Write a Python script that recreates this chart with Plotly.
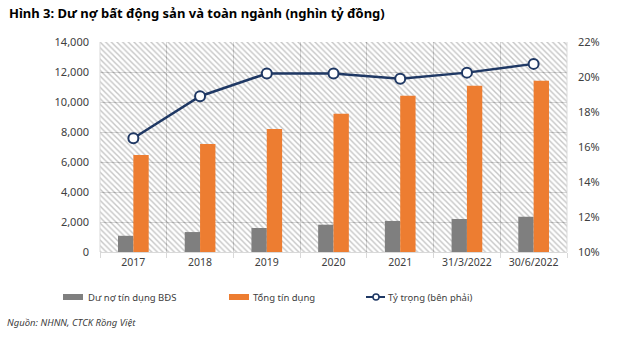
import plotly.graph_objects as go

categories = ["2017", "2018", "2019", "2020", "2021", "31/3/2022", "30/6/2022"]
du_no_bds = [1080, 1330, 1600, 1820, 2070, 2200, 2350]
tong_tin_dung = [6470, 7200, 8200, 9220, 10420, 11090, 11420]
ty_trong = [16.5, 18.9, 20.2, 20.2, 19.9, 20.25, 20.75]
left_ticks = [0, 2000, 4000, 6000, 8000, 10000, 12000, 14000]
right_ticks = [10, 12, 14, 16, 18, 20, 22]

W, H = 622, 341
L, R, T, B = 100, 55, 42, 89
PW, PH = W - L - R, H - T - B

def px(x):
    return (x - L) / PW

def py(y):
    return (H - B - y) / PH

FONT = "Noto Sans"
GRAY = "#7f7f7f"
ORANGE = "#ed7d31"
NAVY = "#1f3864"
TXT = "#404040"
GRID = "#b3b3b3"  # seen through the half-transparent hatch layer

fig = go.Figure()

# hatched plot background (half-transparent so the gridlines show through)
fig.add_trace(go.Bar(
    x=[categories[3]], y=[left_ticks[-1]], width=[len(categories)], offset=-len(categories) / 2,
    marker=dict(color="white", line=dict(width=0),
                pattern=dict(shape="\\", size=4, solidity=0.35, fgcolor="#8c8c8c",
                             bgcolor="white", fillmode="replace")),
    opacity=0.5, hoverinfo="skip", showlegend=False,
))

fig.add_trace(go.Bar(
    x=categories, y=du_no_bds, name="Dư nợ tín dụng BĐS",
    width=0.23, offset=-0.23, marker=dict(color=GRAY, line=dict(width=0)), showlegend=False,
))
fig.add_trace(go.Bar(
    x=categories, y=tong_tin_dung, name="Tổng tín dụng",
    width=0.23, offset=0, marker=dict(color=ORANGE, line=dict(width=0)), showlegend=False,
))
fig.add_trace(go.Scatter(
    x=categories, y=ty_trong, name="Tỷ trọng (bên phải)", yaxis="y2", mode="lines+markers",
    line=dict(color=NAVY, width=2.5),
    marker=dict(symbol="circle", size=10, color="white", line=dict(color=NAVY, width=2)),
    showlegend=False,
))

fig.update_layout(
    width=W, height=H,
    margin=dict(l=L, r=R, t=T, b=B),
    paper_bgcolor="white", plot_bgcolor="white",
    barmode="overlay",
    hovermode=False,
    font=dict(family=FONT, size=11, color=TXT),
    xaxis=dict(
        type="category", categoryorder="array", categoryarray=categories,
        tickson="boundaries", ticks="outside", ticklen=5, tickcolor="#d9d9d9",
        showgrid=True, gridcolor=GRID, gridwidth=1,
        showline=True, linecolor="#d9d9d9", mirror=False,
        tickfont=dict(family=FONT, size=10.5, color=TXT),
        range=[-0.5, len(categories) - 0.5],
    ),
    yaxis=dict(
        range=[0, 14000], tickvals=left_ticks, tickformat=",d",
        showgrid=True, gridcolor=GRID, zeroline=False,
        showline=False, ticks="", ticklabelstandoff=10,
        tickfont=dict(family=FONT, size=11, color=TXT),
    ),
    yaxis2=dict(
        overlaying="y", side="right", range=[10, 22], tickvals=right_ticks,
        ticktext=[f"{v}%" for v in right_ticks],
        showgrid=False, zeroline=False, showline=False, ticks="", ticklabelstandoff=10,
        tickfont=dict(family=FONT, size=11, color=TXT),
    ),
)

# plot border lines (left/right edges)
fig.add_shape(type="line", xref="paper", yref="paper", x0=0, x1=0, y0=0, y1=1,
              line=dict(color="#d9d9d9", width=1))
fig.add_shape(type="line", xref="paper", yref="paper", x0=1, x1=1, y0=0, y1=1,
              line=dict(color="#d9d9d9", width=1))

# title
fig.add_annotation(text="<b>Hình 3: Dư nợ bất động sản và toàn ngành (nghìn tỷ đồng)</b>",
                   xref="paper", yref="paper", x=px(7), y=py(13), xanchor="left", yanchor="middle",
                   showarrow=False, font=dict(family=FONT, size=13, color="#000000"))

# legend (manual)
ly = 297
LF = dict(family=FONT, size=9.5, color=TXT)
fig.add_shape(type="rect", xref="paper", yref="paper", x0=px(63), x1=px(83), y0=py(300), y1=py(294),
              fillcolor=GRAY, line=dict(width=0))
fig.add_annotation(text="Dư nợ tín dụng BĐS", xref="paper", yref="paper", x=px(86), y=py(ly),
                   xanchor="left", yanchor="middle", showarrow=False, font=LF)
fig.add_shape(type="rect", xref="paper", yref="paper", x0=px(229), x1=px(249), y0=py(300), y1=py(294),
              fillcolor=ORANGE, line=dict(width=0))
fig.add_annotation(text="Tổng tín dụng", xref="paper", yref="paper", x=px(251), y=py(ly),
                   xanchor="left", yanchor="middle", showarrow=False, font=LF)
fig.add_shape(type="line", xref="paper", yref="paper", x0=px(366), x1=px(385), y0=py(ly), y1=py(ly),
              line=dict(color=NAVY, width=2))
fig.add_shape(type="circle", xref="paper", yref="paper", x0=px(373), x1=px(379), y0=py(ly + 3), y1=py(ly - 3),
              fillcolor="white", line=dict(color=NAVY, width=1.5))
fig.add_annotation(text="Tỷ trọng (bên phải)", xref="paper", yref="paper", x=px(386), y=py(ly),
                   xanchor="left", yanchor="middle", showarrow=False, font=LF)

# source
fig.add_annotation(text="<i>Nguồn: NHNN, CTCK Rồng Việt</i>", xref="paper", yref="paper",
                   x=px(5), y=py(322), xanchor="left", yanchor="middle", showarrow=False,
                   font=dict(family=FONT, size=9.5, color=TXT))

fig.write_html("out.html")
